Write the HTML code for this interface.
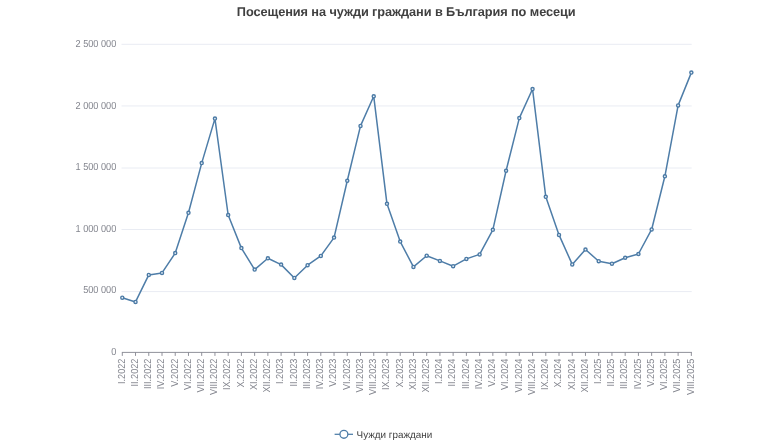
<!DOCTYPE html>
<html lang="bg"><head><meta charset="utf-8"><title>Посещения на чужди граждани в България по месеци</title>
<style>
html,body{margin:0;padding:0;background:#fff;}
body{width:768px;height:443px;overflow:hidden;font-family:"Liberation Sans",sans-serif;}
svg{display:block;}
svg text{font-family:"Liberation Sans",sans-serif;text-rendering:geometricPrecision;}
</style></head><body>
<svg width="768" height="443" viewBox="0 0 768 443">
<rect width="768" height="443" fill="#fff"/>
<text x="236.8" y="15.7" textLength="338.8" lengthAdjust="spacing" font-size="12.75" font-weight="bold" fill="#404040">Посещения на чужди граждани в България по месеци</text>
<line x1="121.5" x2="691.7" y1="291.60" y2="291.60" stroke="#e9ecf3" stroke-width="1"/>
<line x1="121.5" x2="691.7" y1="229.50" y2="229.50" stroke="#e9ecf3" stroke-width="1"/>
<line x1="121.5" x2="691.7" y1="168.00" y2="168.00" stroke="#e9ecf3" stroke-width="1"/>
<line x1="121.5" x2="691.7" y1="105.95" y2="105.95" stroke="#e9ecf3" stroke-width="1"/>
<line x1="121.5" x2="691.7" y1="44.30" y2="44.30" stroke="#e9ecf3" stroke-width="1"/>
<text transform="translate(116.3,355.00) scale(0.9,1)" text-anchor="end" font-size="10.2" fill="#83858e">0</text>
<text transform="translate(116.3,293.36) scale(0.9,1)" text-anchor="end" font-size="10.2" fill="#83858e">500 000</text>
<text transform="translate(116.3,231.72) scale(0.9,1)" text-anchor="end" font-size="10.2" fill="#83858e">1 000 000</text>
<text transform="translate(116.3,170.08) scale(0.9,1)" text-anchor="end" font-size="10.2" fill="#83858e">1 500 000</text>
<text transform="translate(116.3,108.95) scale(0.9,1)" text-anchor="end" font-size="10.2" fill="#83858e">2 000 000</text>
<text transform="translate(116.3,46.80) scale(0.9,1)" text-anchor="end" font-size="10.2" fill="#83858e">2 500 000</text>
<line x1="121.89999999999999" x2="691.9" y1="352.4" y2="352.4" stroke="#83858e" stroke-width="0.9"/>
<line x1="122.30" x2="122.30" y1="352.4" y2="355.9" stroke="#83858e" stroke-width="0.9"/>
<line x1="135.53" x2="135.53" y1="352.4" y2="355.9" stroke="#83858e" stroke-width="0.9"/>
<line x1="148.77" x2="148.77" y1="352.4" y2="355.9" stroke="#83858e" stroke-width="0.9"/>
<line x1="162.00" x2="162.00" y1="352.4" y2="355.9" stroke="#83858e" stroke-width="0.9"/>
<line x1="175.23" x2="175.23" y1="352.4" y2="355.9" stroke="#83858e" stroke-width="0.9"/>
<line x1="188.47" x2="188.47" y1="352.4" y2="355.9" stroke="#83858e" stroke-width="0.9"/>
<line x1="201.70" x2="201.70" y1="352.4" y2="355.9" stroke="#83858e" stroke-width="0.9"/>
<line x1="214.94" x2="214.94" y1="352.4" y2="355.9" stroke="#83858e" stroke-width="0.9"/>
<line x1="228.17" x2="228.17" y1="352.4" y2="355.9" stroke="#83858e" stroke-width="0.9"/>
<line x1="241.40" x2="241.40" y1="352.4" y2="355.9" stroke="#83858e" stroke-width="0.9"/>
<line x1="254.64" x2="254.64" y1="352.4" y2="355.9" stroke="#83858e" stroke-width="0.9"/>
<line x1="267.87" x2="267.87" y1="352.4" y2="355.9" stroke="#83858e" stroke-width="0.9"/>
<line x1="281.10" x2="281.10" y1="352.4" y2="355.9" stroke="#83858e" stroke-width="0.9"/>
<line x1="294.34" x2="294.34" y1="352.4" y2="355.9" stroke="#83858e" stroke-width="0.9"/>
<line x1="307.57" x2="307.57" y1="352.4" y2="355.9" stroke="#83858e" stroke-width="0.9"/>
<line x1="320.81" x2="320.81" y1="352.4" y2="355.9" stroke="#83858e" stroke-width="0.9"/>
<line x1="334.04" x2="334.04" y1="352.4" y2="355.9" stroke="#83858e" stroke-width="0.9"/>
<line x1="347.27" x2="347.27" y1="352.4" y2="355.9" stroke="#83858e" stroke-width="0.9"/>
<line x1="360.51" x2="360.51" y1="352.4" y2="355.9" stroke="#83858e" stroke-width="0.9"/>
<line x1="373.74" x2="373.74" y1="352.4" y2="355.9" stroke="#83858e" stroke-width="0.9"/>
<line x1="386.97" x2="386.97" y1="352.4" y2="355.9" stroke="#83858e" stroke-width="0.9"/>
<line x1="400.21" x2="400.21" y1="352.4" y2="355.9" stroke="#83858e" stroke-width="0.9"/>
<line x1="413.44" x2="413.44" y1="352.4" y2="355.9" stroke="#83858e" stroke-width="0.9"/>
<line x1="426.68" x2="426.68" y1="352.4" y2="355.9" stroke="#83858e" stroke-width="0.9"/>
<line x1="439.91" x2="439.91" y1="352.4" y2="355.9" stroke="#83858e" stroke-width="0.9"/>
<line x1="453.14" x2="453.14" y1="352.4" y2="355.9" stroke="#83858e" stroke-width="0.9"/>
<line x1="466.38" x2="466.38" y1="352.4" y2="355.9" stroke="#83858e" stroke-width="0.9"/>
<line x1="479.61" x2="479.61" y1="352.4" y2="355.9" stroke="#83858e" stroke-width="0.9"/>
<line x1="492.84" x2="492.84" y1="352.4" y2="355.9" stroke="#83858e" stroke-width="0.9"/>
<line x1="506.08" x2="506.08" y1="352.4" y2="355.9" stroke="#83858e" stroke-width="0.9"/>
<line x1="519.31" x2="519.31" y1="352.4" y2="355.9" stroke="#83858e" stroke-width="0.9"/>
<line x1="532.55" x2="532.55" y1="352.4" y2="355.9" stroke="#83858e" stroke-width="0.9"/>
<line x1="545.78" x2="545.78" y1="352.4" y2="355.9" stroke="#83858e" stroke-width="0.9"/>
<line x1="559.01" x2="559.01" y1="352.4" y2="355.9" stroke="#83858e" stroke-width="0.9"/>
<line x1="572.25" x2="572.25" y1="352.4" y2="355.9" stroke="#83858e" stroke-width="0.9"/>
<line x1="585.48" x2="585.48" y1="352.4" y2="355.9" stroke="#83858e" stroke-width="0.9"/>
<line x1="598.71" x2="598.71" y1="352.4" y2="355.9" stroke="#83858e" stroke-width="0.9"/>
<line x1="611.95" x2="611.95" y1="352.4" y2="355.9" stroke="#83858e" stroke-width="0.9"/>
<line x1="625.18" x2="625.18" y1="352.4" y2="355.9" stroke="#83858e" stroke-width="0.9"/>
<line x1="638.42" x2="638.42" y1="352.4" y2="355.9" stroke="#83858e" stroke-width="0.9"/>
<line x1="651.65" x2="651.65" y1="352.4" y2="355.9" stroke="#83858e" stroke-width="0.9"/>
<line x1="664.88" x2="664.88" y1="352.4" y2="355.9" stroke="#83858e" stroke-width="0.9"/>
<line x1="678.12" x2="678.12" y1="352.4" y2="355.9" stroke="#83858e" stroke-width="0.9"/>
<line x1="691.35" x2="691.35" y1="352.4" y2="355.9" stroke="#83858e" stroke-width="0.9"/>
<text transform="translate(124.60,358.60) rotate(-90) scale(0.895,1)" text-anchor="end" font-size="10.2" fill="#83858e">I.2022</text>
<text transform="translate(137.83,358.60) rotate(-90) scale(0.895,1)" text-anchor="end" font-size="10.2" fill="#83858e">II.2022</text>
<text transform="translate(151.07,358.60) rotate(-90) scale(0.895,1)" text-anchor="end" font-size="10.2" fill="#83858e">III.2022</text>
<text transform="translate(164.30,358.60) rotate(-90) scale(0.895,1)" text-anchor="end" font-size="10.2" fill="#83858e">IV.2022</text>
<text transform="translate(177.53,358.60) rotate(-90) scale(0.895,1)" text-anchor="end" font-size="10.2" fill="#83858e">V.2022</text>
<text transform="translate(190.77,358.60) rotate(-90) scale(0.895,1)" text-anchor="end" font-size="10.2" fill="#83858e">VI.2022</text>
<text transform="translate(204.00,358.60) rotate(-90) scale(0.895,1)" text-anchor="end" font-size="10.2" fill="#83858e">VII.2022</text>
<text transform="translate(217.24,358.60) rotate(-90) scale(0.895,1)" text-anchor="end" font-size="10.2" fill="#83858e">VIII.2022</text>
<text transform="translate(230.47,358.60) rotate(-90) scale(0.895,1)" text-anchor="end" font-size="10.2" fill="#83858e">IX.2022</text>
<text transform="translate(243.70,358.60) rotate(-90) scale(0.895,1)" text-anchor="end" font-size="10.2" fill="#83858e">X.2022</text>
<text transform="translate(256.94,358.60) rotate(-90) scale(0.895,1)" text-anchor="end" font-size="10.2" fill="#83858e">XI.2022</text>
<text transform="translate(270.17,358.60) rotate(-90) scale(0.895,1)" text-anchor="end" font-size="10.2" fill="#83858e">XII.2022</text>
<text transform="translate(283.40,358.60) rotate(-90) scale(0.895,1)" text-anchor="end" font-size="10.2" fill="#83858e">I.2023</text>
<text transform="translate(296.64,358.60) rotate(-90) scale(0.895,1)" text-anchor="end" font-size="10.2" fill="#83858e">II.2023</text>
<text transform="translate(309.87,358.60) rotate(-90) scale(0.895,1)" text-anchor="end" font-size="10.2" fill="#83858e">III.2023</text>
<text transform="translate(323.11,358.60) rotate(-90) scale(0.895,1)" text-anchor="end" font-size="10.2" fill="#83858e">IV.2023</text>
<text transform="translate(336.34,358.60) rotate(-90) scale(0.895,1)" text-anchor="end" font-size="10.2" fill="#83858e">V.2023</text>
<text transform="translate(349.57,358.60) rotate(-90) scale(0.895,1)" text-anchor="end" font-size="10.2" fill="#83858e">VI.2023</text>
<text transform="translate(362.81,358.60) rotate(-90) scale(0.895,1)" text-anchor="end" font-size="10.2" fill="#83858e">VII.2023</text>
<text transform="translate(376.04,358.60) rotate(-90) scale(0.895,1)" text-anchor="end" font-size="10.2" fill="#83858e">VIII.2023</text>
<text transform="translate(389.27,358.60) rotate(-90) scale(0.895,1)" text-anchor="end" font-size="10.2" fill="#83858e">IX.2023</text>
<text transform="translate(402.51,358.60) rotate(-90) scale(0.895,1)" text-anchor="end" font-size="10.2" fill="#83858e">X.2023</text>
<text transform="translate(415.74,358.60) rotate(-90) scale(0.895,1)" text-anchor="end" font-size="10.2" fill="#83858e">XI.2023</text>
<text transform="translate(428.98,358.60) rotate(-90) scale(0.895,1)" text-anchor="end" font-size="10.2" fill="#83858e">XII.2023</text>
<text transform="translate(442.21,358.60) rotate(-90) scale(0.895,1)" text-anchor="end" font-size="10.2" fill="#83858e">I.2024</text>
<text transform="translate(455.44,358.60) rotate(-90) scale(0.895,1)" text-anchor="end" font-size="10.2" fill="#83858e">II.2024</text>
<text transform="translate(468.68,358.60) rotate(-90) scale(0.895,1)" text-anchor="end" font-size="10.2" fill="#83858e">III.2024</text>
<text transform="translate(481.91,358.60) rotate(-90) scale(0.895,1)" text-anchor="end" font-size="10.2" fill="#83858e">IV.2024</text>
<text transform="translate(495.14,358.60) rotate(-90) scale(0.895,1)" text-anchor="end" font-size="10.2" fill="#83858e">V.2024</text>
<text transform="translate(508.38,358.60) rotate(-90) scale(0.895,1)" text-anchor="end" font-size="10.2" fill="#83858e">VI.2024</text>
<text transform="translate(521.61,358.60) rotate(-90) scale(0.895,1)" text-anchor="end" font-size="10.2" fill="#83858e">VII.2024</text>
<text transform="translate(534.85,358.60) rotate(-90) scale(0.895,1)" text-anchor="end" font-size="10.2" fill="#83858e">VIII.2024</text>
<text transform="translate(548.08,358.60) rotate(-90) scale(0.895,1)" text-anchor="end" font-size="10.2" fill="#83858e">IX.2024</text>
<text transform="translate(561.31,358.60) rotate(-90) scale(0.895,1)" text-anchor="end" font-size="10.2" fill="#83858e">X.2024</text>
<text transform="translate(574.55,358.60) rotate(-90) scale(0.895,1)" text-anchor="end" font-size="10.2" fill="#83858e">XI.2024</text>
<text transform="translate(587.78,358.60) rotate(-90) scale(0.895,1)" text-anchor="end" font-size="10.2" fill="#83858e">XII.2024</text>
<text transform="translate(601.01,358.60) rotate(-90) scale(0.895,1)" text-anchor="end" font-size="10.2" fill="#83858e">I.2025</text>
<text transform="translate(614.25,358.60) rotate(-90) scale(0.895,1)" text-anchor="end" font-size="10.2" fill="#83858e">II.2025</text>
<text transform="translate(627.48,358.60) rotate(-90) scale(0.895,1)" text-anchor="end" font-size="10.2" fill="#83858e">III.2025</text>
<text transform="translate(640.72,358.60) rotate(-90) scale(0.895,1)" text-anchor="end" font-size="10.2" fill="#83858e">IV.2025</text>
<text transform="translate(653.95,358.60) rotate(-90) scale(0.895,1)" text-anchor="end" font-size="10.2" fill="#83858e">V.2025</text>
<text transform="translate(667.18,358.60) rotate(-90) scale(0.895,1)" text-anchor="end" font-size="10.2" fill="#83858e">VI.2025</text>
<text transform="translate(680.42,358.60) rotate(-90) scale(0.895,1)" text-anchor="end" font-size="10.2" fill="#83858e">VII.2025</text>
<text transform="translate(693.65,358.60) rotate(-90) scale(0.895,1)" text-anchor="end" font-size="10.2" fill="#83858e">VIII.2025</text>
<polyline points="122.30,297.70 135.53,301.95 148.77,274.90 162.00,272.90 175.23,253.10 188.47,212.80 201.70,163.10 214.94,118.60 228.17,215.00 241.40,248.10 254.64,269.60 267.87,258.30 281.10,264.60 294.34,277.95 307.57,265.20 320.81,255.90 334.04,237.60 347.27,180.75 360.51,125.90 373.74,96.30 386.97,203.80 400.21,241.60 413.44,266.90 426.68,255.70 439.91,260.90 453.14,266.20 466.38,258.90 479.61,254.40 492.84,229.85 506.08,170.75 519.31,118.10 532.55,89.05 545.78,196.80 559.01,234.90 572.25,264.40 585.48,249.55 598.71,261.20 611.95,263.70 625.18,257.75 638.42,254.00 651.65,229.45 664.88,176.30 678.12,105.40 691.35,72.60" fill="none" stroke="#4e7da8" stroke-width="1.5" stroke-linejoin="round" stroke-linecap="round"/>
<circle cx="122.30" cy="297.70" r="1.55" fill="#eaf1f8" stroke="#4b7aa5" stroke-width="1.4"/>
<circle cx="135.53" cy="301.95" r="1.55" fill="#eaf1f8" stroke="#4b7aa5" stroke-width="1.4"/>
<circle cx="148.77" cy="274.90" r="1.55" fill="#eaf1f8" stroke="#4b7aa5" stroke-width="1.4"/>
<circle cx="162.00" cy="272.90" r="1.55" fill="#eaf1f8" stroke="#4b7aa5" stroke-width="1.4"/>
<circle cx="175.23" cy="253.10" r="1.55" fill="#eaf1f8" stroke="#4b7aa5" stroke-width="1.4"/>
<circle cx="188.47" cy="212.80" r="1.55" fill="#eaf1f8" stroke="#4b7aa5" stroke-width="1.4"/>
<circle cx="201.70" cy="163.10" r="1.55" fill="#eaf1f8" stroke="#4b7aa5" stroke-width="1.4"/>
<circle cx="214.94" cy="118.60" r="1.55" fill="#eaf1f8" stroke="#4b7aa5" stroke-width="1.4"/>
<circle cx="228.17" cy="215.00" r="1.55" fill="#eaf1f8" stroke="#4b7aa5" stroke-width="1.4"/>
<circle cx="241.40" cy="248.10" r="1.55" fill="#eaf1f8" stroke="#4b7aa5" stroke-width="1.4"/>
<circle cx="254.64" cy="269.60" r="1.55" fill="#eaf1f8" stroke="#4b7aa5" stroke-width="1.4"/>
<circle cx="267.87" cy="258.30" r="1.55" fill="#eaf1f8" stroke="#4b7aa5" stroke-width="1.4"/>
<circle cx="281.10" cy="264.60" r="1.55" fill="#eaf1f8" stroke="#4b7aa5" stroke-width="1.4"/>
<circle cx="294.34" cy="277.95" r="1.55" fill="#eaf1f8" stroke="#4b7aa5" stroke-width="1.4"/>
<circle cx="307.57" cy="265.20" r="1.55" fill="#eaf1f8" stroke="#4b7aa5" stroke-width="1.4"/>
<circle cx="320.81" cy="255.90" r="1.55" fill="#eaf1f8" stroke="#4b7aa5" stroke-width="1.4"/>
<circle cx="334.04" cy="237.60" r="1.55" fill="#eaf1f8" stroke="#4b7aa5" stroke-width="1.4"/>
<circle cx="347.27" cy="180.75" r="1.55" fill="#eaf1f8" stroke="#4b7aa5" stroke-width="1.4"/>
<circle cx="360.51" cy="125.90" r="1.55" fill="#eaf1f8" stroke="#4b7aa5" stroke-width="1.4"/>
<circle cx="373.74" cy="96.30" r="1.55" fill="#eaf1f8" stroke="#4b7aa5" stroke-width="1.4"/>
<circle cx="386.97" cy="203.80" r="1.55" fill="#eaf1f8" stroke="#4b7aa5" stroke-width="1.4"/>
<circle cx="400.21" cy="241.60" r="1.55" fill="#eaf1f8" stroke="#4b7aa5" stroke-width="1.4"/>
<circle cx="413.44" cy="266.90" r="1.55" fill="#eaf1f8" stroke="#4b7aa5" stroke-width="1.4"/>
<circle cx="426.68" cy="255.70" r="1.55" fill="#eaf1f8" stroke="#4b7aa5" stroke-width="1.4"/>
<circle cx="439.91" cy="260.90" r="1.55" fill="#eaf1f8" stroke="#4b7aa5" stroke-width="1.4"/>
<circle cx="453.14" cy="266.20" r="1.55" fill="#eaf1f8" stroke="#4b7aa5" stroke-width="1.4"/>
<circle cx="466.38" cy="258.90" r="1.55" fill="#eaf1f8" stroke="#4b7aa5" stroke-width="1.4"/>
<circle cx="479.61" cy="254.40" r="1.55" fill="#eaf1f8" stroke="#4b7aa5" stroke-width="1.4"/>
<circle cx="492.84" cy="229.85" r="1.55" fill="#eaf1f8" stroke="#4b7aa5" stroke-width="1.4"/>
<circle cx="506.08" cy="170.75" r="1.55" fill="#eaf1f8" stroke="#4b7aa5" stroke-width="1.4"/>
<circle cx="519.31" cy="118.10" r="1.55" fill="#eaf1f8" stroke="#4b7aa5" stroke-width="1.4"/>
<circle cx="532.55" cy="89.05" r="1.55" fill="#eaf1f8" stroke="#4b7aa5" stroke-width="1.4"/>
<circle cx="545.78" cy="196.80" r="1.55" fill="#eaf1f8" stroke="#4b7aa5" stroke-width="1.4"/>
<circle cx="559.01" cy="234.90" r="1.55" fill="#eaf1f8" stroke="#4b7aa5" stroke-width="1.4"/>
<circle cx="572.25" cy="264.40" r="1.55" fill="#eaf1f8" stroke="#4b7aa5" stroke-width="1.4"/>
<circle cx="585.48" cy="249.55" r="1.55" fill="#eaf1f8" stroke="#4b7aa5" stroke-width="1.4"/>
<circle cx="598.71" cy="261.20" r="1.55" fill="#eaf1f8" stroke="#4b7aa5" stroke-width="1.4"/>
<circle cx="611.95" cy="263.70" r="1.55" fill="#eaf1f8" stroke="#4b7aa5" stroke-width="1.4"/>
<circle cx="625.18" cy="257.75" r="1.55" fill="#eaf1f8" stroke="#4b7aa5" stroke-width="1.4"/>
<circle cx="638.42" cy="254.00" r="1.55" fill="#eaf1f8" stroke="#4b7aa5" stroke-width="1.4"/>
<circle cx="651.65" cy="229.45" r="1.55" fill="#eaf1f8" stroke="#4b7aa5" stroke-width="1.4"/>
<circle cx="664.88" cy="176.30" r="1.55" fill="#eaf1f8" stroke="#4b7aa5" stroke-width="1.4"/>
<circle cx="678.12" cy="105.40" r="1.55" fill="#eaf1f8" stroke="#4b7aa5" stroke-width="1.4"/>
<circle cx="691.35" cy="72.60" r="1.55" fill="#eaf1f8" stroke="#4b7aa5" stroke-width="1.4"/>
<line x1="334.6" x2="353" y1="434.3" y2="434.3" stroke="#4d7ca7" stroke-width="1.25"/>
<circle cx="343.9" cy="434.3" r="3.95" fill="#fff" stroke="#4d7ca7" stroke-width="1.3"/>
<text x="356.6" y="437.5" font-size="9.9" fill="#3f3f3f">Чужди граждани</text>
</svg></body></html>
